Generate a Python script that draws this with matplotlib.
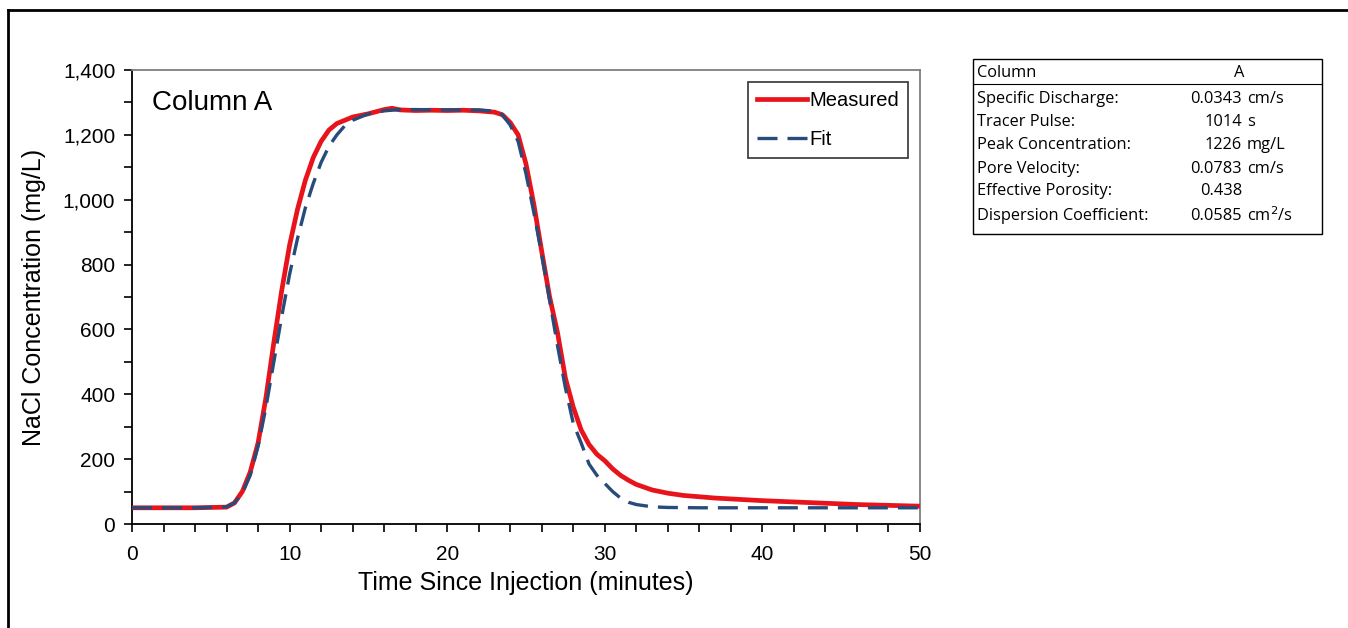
import matplotlib
matplotlib.use("Agg")
import matplotlib.pyplot as plt
from matplotlib.ticker import MultipleLocator, FuncFormatter
from matplotlib.lines import Line2D
from matplotlib.patches import Rectangle

plt.rcParams['font.family'] = ['Liberation Sans', 'DejaVu Sans']

# ---- data ----
measured_t = [0, 2, 4, 6, 6.5, 7, 7.5, 8, 8.5, 9, 9.5, 10, 10.5, 11, 11.5, 12, 12.5, 13, 14, 15,
              16, 16.5, 17, 18, 19, 20, 21, 22, 23, 23.5, 24, 24.5, 25, 25.5, 26, 26.5, 27, 27.5,
              28, 28.5, 29, 29.5, 30, 30.5, 31, 31.5, 32, 33, 34, 35, 37, 40, 43, 46, 50]
measured_c = [50, 50, 50, 52, 65, 100, 160, 250, 390, 560, 720, 860, 970, 1060, 1130, 1180, 1215, 1235, 1255, 1265,
              1278, 1282, 1277, 1275, 1276, 1275, 1276, 1274, 1270, 1262, 1238, 1200, 1110, 985, 840, 700, 590, 450,
              360, 290, 245, 215, 195, 170, 150, 135, 122, 105, 95, 88, 80, 72, 66, 60, 55]

fit_t = [0, 2, 4, 6, 6.5, 7, 7.5, 8, 8.5, 9, 9.5, 10, 10.5, 11, 11.5, 12, 12.5, 13, 13.5, 14, 15,
         16, 17, 18, 20, 22, 23, 23.5, 24, 24.5, 25, 25.5, 26, 26.5, 27, 27.5, 28, 28.5, 29, 29.5,
         30, 30.5, 31, 31.5, 32, 33, 34, 36, 40, 45, 50]
fit_c = [50, 50, 50, 53, 65, 95, 150, 240, 360, 500, 640, 770, 880, 975, 1050, 1115, 1165, 1200, 1228, 1245, 1265,
         1274, 1278, 1278, 1277, 1277, 1273, 1262, 1230, 1180, 1080, 960, 830, 690, 550, 420, 310, 250, 185, 150,
         125, 100, 80, 67, 60, 53, 51, 50, 50, 50, 50]

table_labels = ["Column", "Specific Discharge:", "Tracer Pulse:", "Peak Concentration:",
                "Pore Velocity:", "Effective Porosity:", "Dispersion Coefficient:"]
table_values = ["A", "0.0343", "1014", "1226", "0.0783", "0.438", "0.0585"]
table_units = ["", "cm/s", "s", "mg/L", "cm/s", "", r"cm$^2$/s"]

W, H = 1348, 628
fig = plt.figure(figsize=(W / 100, H / 100), dpi=100)

def fx(px):
    return px / W

def fy(py):
    return 1 - py / H

ax = fig.add_axes([fx(132), fy(524), fx(920) - fx(132), fy(70) - fy(524)])

ax.plot(measured_t, measured_c, color='#e8141c', lw=3.4, label='Measured', zorder=3)
ax.plot(fit_t, fit_c, color='#274b7a', lw=2.4, dashes=(6, 3), label='Fit', zorder=4)

ax.set_xlim(0, 50)
ax.set_ylim(0, 1400)
ax.xaxis.set_major_locator(MultipleLocator(10))
ax.xaxis.set_minor_locator(MultipleLocator(2))
ax.yaxis.set_major_locator(MultipleLocator(200))
ax.yaxis.set_minor_locator(MultipleLocator(100))
ax.yaxis.set_major_formatter(FuncFormatter(lambda v, p: f"{int(v):,}"))
ax.tick_params(which='both', direction='out', length=6, width=1.2, colors='black',
               labelsize=15)
ax.tick_params(axis='x', pad=9)
ax.tick_params(axis='y', pad=6)

for s in ['left', 'bottom']:
    ax.spines[s].set_color('black')
    ax.spines[s].set_linewidth(1.3)
for s in ['top', 'right']:
    ax.spines[s].set_color('#7f7f7f')
    ax.spines[s].set_linewidth(1.3)

ax.set_xlabel("Time Since Injection (minutes)", fontsize=18, labelpad=5)
ax.set_ylabel("NaCl Concentration (mg/L)", fontsize=18, labelpad=12)

ax.text(0.025, 0.955, "Column A", transform=ax.transAxes, fontsize=20, va='top', ha='left')

leg = ax.legend(loc='upper right', bbox_to_anchor=(0.985, 0.9736), fontsize=14.5, frameon=True,
                fancybox=False, edgecolor='black', handlelength=2.5, handletextpad=0.1,
                labelspacing=1.0, borderpad=0.45, borderaxespad=0.0)
leg.get_frame().set_linewidth(1.2)

# ---- parameter table ----
tx0, tx1, ty0, ty1 = 973, 1322, 59, 234
fig.add_artist(Rectangle((fx(tx0), fy(ty1)), fx(tx1) - fx(tx0), fy(ty0) - fy(ty1),
                         transform=fig.transFigure, fill=False, edgecolor='black', lw=1.0))
fig.add_artist(Line2D([fx(tx0), fx(tx1)], [fy(84), fy(84)],
                      transform=fig.transFigure, color='black', lw=0.8))
row_y = [73, 99, 122, 145, 169, 191, 216]
tfont = ['Open Sans', 'DejaVu Sans']
tsize = 11.8
for i, (lab, val, unit) in enumerate(zip(table_labels, table_values, table_units)):
    yc = row_y[i]
    fig.text(fx(977), fy(yc), lab, fontsize=tsize, family=tfont, va='center', ha='left')
    if i == 0:
        fig.text(fx(1239), fy(yc), val, fontsize=tsize, family=tfont, va='center', ha='center')
    else:
        fig.text(fx(1242), fy(yc), val, fontsize=tsize, family=tfont, va='center', ha='right')
    if unit:
        fig.text(fx(1247), fy(yc), unit, fontsize=tsize, family=tfont, va='center', ha='left')

# ---- outer frame ----
fig.add_artist(Line2D([fx(8), 1.0], [fy(10), fy(10)], transform=fig.transFigure, color='black', lw=2))
fig.add_artist(Line2D([fx(8), fx(8)], [fy(10), 0.0], transform=fig.transFigure, color='black', lw=2))

fig.savefig("out.png", dpi=100)
